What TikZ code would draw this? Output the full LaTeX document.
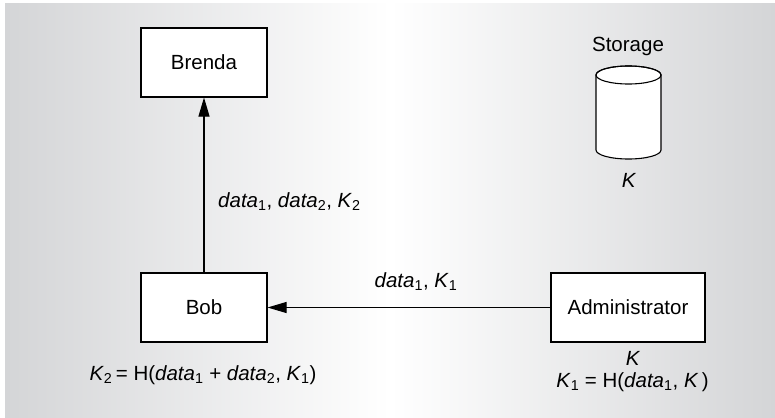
\documentclass[tikz,border=0pt]{standalone}
\usepackage{fontspec}
\setmainfont{Liberation Sans}
\usetikzlibrary{arrows.meta}
\definecolor{bggray}{RGB}{212,213,215}
\begin{document}
\begin{tikzpicture}[x=1pt,y=1pt,
  box/.style={draw, line width=1.1pt, fill=white, minimum height=69pt, inner sep=0pt},
  lbl/.style={inner sep=0pt, font=\fontsize{20.5}{24}\selectfont},
  arr/.style={line width=1.1pt, -{Triangle[length=19pt,width=11pt]}},
  every node/.style={font=\fontsize{20.5}{24}\selectfont}]
\useasboundingbox (0,0) rectangle (775,-417);
\shade[left color=bggray, right color=bggray, middle color=white] (5,-4) rectangle (775,-417);
% boxes
\node[box, minimum width=126pt] (brenda) at (204,-62.5) {Brenda};
\node[box, minimum width=126pt] (bob) at (204,-307.5) {Bob};
\node[box, minimum width=154pt] (admin) at (628,-307.5) {Administrator};
% storage cylinder
\coordinate (storage) at (628.5,-112.5);
\draw[line width=1.1pt, fill=white] (596,-75) -- (596,-150)
  arc[start angle=180, end angle=360, x radius=32.5pt, y radius=9pt]
  -- (661,-75) arc[start angle=0, end angle=180, x radius=32.5pt, y radius=9pt] -- cycle;
\draw[line width=1.1pt] (628.5,-75) ellipse [x radius=32.5pt, y radius=9pt];
\node[lbl, anchor=base] (storagelbl) at (628,-52) {Storage};
\node[lbl, anchor=base] (storagek) at (629,-187) {\textit{K}};
% connectors
\draw[arr] (bob) -- (brenda);
\draw[arr] (admin) -- (bob);
% labels
\node[lbl, anchor=base west] (l1) at (218,-207) {\textit{data}\textsubscript{1}, \textit{data}\textsubscript{2}, \textit{K}\textsubscript{2}};
\node[lbl, anchor=base] (l2) at (416,-287) {\textit{data}\textsubscript{1}, \textit{K}\textsubscript{1}};
\node[lbl, anchor=base] (bobf) at (203,-380) {\textit{K}\textsubscript{2}\,= H(\textit{data}\textsubscript{1} + \textit{data}\textsubscript{2}, \textit{K}\textsubscript{1})};
\node[lbl, anchor=base] (admk) at (633,-365) {\textit{K}};
\node[lbl, anchor=base] (admf) at (632.5,-387) {\textit{K}\textsubscript{1} = H(\textit{data}\textsubscript{1}, \textit{K}\,)};
\end{tikzpicture}
\end{document}
